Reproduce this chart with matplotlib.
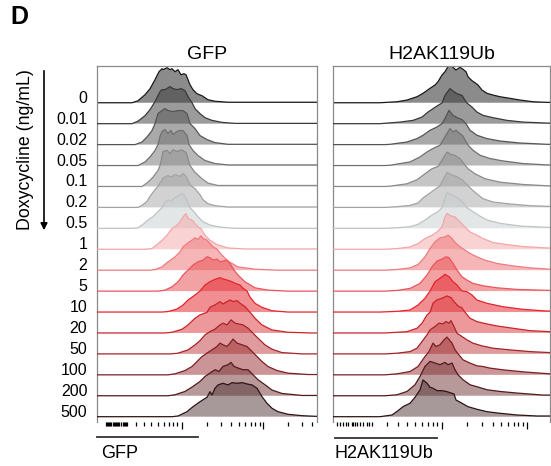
import numpy as np
import matplotlib
matplotlib.use("Agg")
import matplotlib.pyplot as plt
from matplotlib.transforms import blended_transform_factory

plt.rcParams['font.family'] = ['Liberation Sans', 'DejaVu Sans']

# doxycycline doses (ng/mL), one histogram row each
doses = ['0', '0.01', '0.02', '0.05', '0.1', '0.2', '0.5', '1', '2', '5',
         '10', '20', '50', '100', '200', '500']

# GFP histograms: display channel and scaled counts
gfp_x = [
    [35, 41, 48, 53, 58, 62, 65, 66, 70, 73, 75, 78, 81, 84, 87, 89, 91, 93, 96, 100, 105, 111, 118, 131],
    [35, 41, 48, 53, 58, 63, 65, 68, 73, 76, 80, 84, 88, 91, 95, 98, 103, 108, 115, 125, 138],
    [38, 45, 50, 55, 58, 61, 65, 68, 71, 76, 81, 86, 90, 93, 98, 103, 110, 118, 131],
    [41, 48, 53, 58, 61, 63, 65, 68, 71, 74, 76, 80, 83, 86, 90, 92, 96, 101, 108, 118, 131],
    [45, 51, 56, 61, 63, 65, 66, 70, 73, 76, 80, 85, 89, 93, 98, 105, 111, 121],
    [41, 45, 50, 53, 58, 61, 63, 65, 66, 71, 74, 78, 83, 86, 89, 93, 98, 103, 106, 111, 118, 131],
    [35, 41, 46, 51, 56, 61, 65, 68, 71, 74, 78, 83, 85, 88, 91, 93, 97, 101, 106, 113, 125, 138],
    [48, 55, 60, 65, 70, 75, 80, 83, 86, 89, 91, 95, 98, 101, 104, 108, 113, 120, 131, 148],
    [53, 58, 65, 71, 78, 83, 86, 90, 95, 98, 101, 104, 106, 110, 113, 116, 120, 125, 131, 141, 158, 181],
    [61, 68, 75, 81, 86, 91, 96, 101, 106, 110, 113, 116, 120, 123, 126, 130, 133, 137, 141, 148, 158, 171, 191],
    [65, 71, 80, 86, 91, 98, 103, 108, 113, 118, 123, 126, 130, 135, 138, 143, 146, 150, 153, 158, 165, 175, 191],
    [68, 75, 85, 91, 98, 103, 110, 113, 118, 123, 126, 130, 133, 136, 140, 143, 148, 153, 158, 165, 175, 191, 215],
    [73, 81, 91, 98, 103, 108, 113, 118, 123, 126, 130, 134, 138, 141, 146, 151, 156, 161, 168, 175, 185, 205],
    [71, 78, 88, 95, 100, 105, 110, 115, 120, 123, 126, 130, 133, 136, 140, 145, 150, 155, 160, 165, 171, 180, 191, 211],
    [71, 78, 88, 96, 103, 108, 113, 118, 122, 126, 131, 134, 137, 141, 146, 151, 156, 161, 168, 175, 185, 205],
    [75, 81, 90, 96, 103, 110, 113, 115, 118, 121, 126, 131, 135, 140, 145, 150, 155, 160, 165, 170, 175, 181, 191, 205, 218],
]
gfp_h = [
    [0, 2, 8, 14, 23, 31, 34, 33, 35, 33, 34, 31, 33, 28, 29, 28, 23, 18, 13, 9, 7, 3, 1.5, 0.5],
    [0, 2.5, 8, 14, 22, 32, 34, 34, 37, 35, 34, 35, 33, 27, 21, 15, 10, 6, 3.3, 1.3, 0.3],
    [0, 2.6, 7.6, 14, 21, 31, 34, 36, 34, 33, 34, 34, 31, 21, 16, 9, 5, 2, 0.3],
    [0, 3.6, 8.6, 15, 21, 29, 34, 36, 32, 35, 31, 34, 35, 35, 30, 21, 15, 10, 5, 2, 0.6],
    [0, 4.3, 9.3, 16, 21, 29, 35, 36, 33, 36.5, 35, 36.5, 34, 21, 14, 7.7, 3.3, 1],
    [0, 2, 6, 11, 17.7, 21, 24.5, 27, 29.4, 31.7, 30.4, 32.7, 31, 33.7, 31, 22.7, 18.7, 12.7, 7.7, 3.7, 1.7, 0.4],
    [0, 0.6, 4, 8.3, 11.7, 16.7, 20.7, 26, 28.3, 27.3, 30.6, 33.3, 35, 31.6, 25, 20.6, 16.6, 11.6, 6.6, 3.3, 1, 0],
    [0, 0.7, 4.7, 9, 14, 20.7, 24, 27.3, 32.3, 35.7, 30.7, 29, 25.7, 22.3, 20.7, 14, 9, 4.7, 1.3, 0.3],
    [0, 0.7, 3.3, 8.3, 13.3, 18.3, 23.3, 26.7, 30, 32.3, 30.7, 34.3, 31.7, 30, 26.7, 23.3, 21, 15, 9, 3.3, 1, 0],
    [0, 1, 4.3, 9.3, 16, 21, 26, 29.3, 31, 34.3, 33.3, 31, 32, 29.3, 30, 31, 27.7, 21, 16, 9.3, 3.3, 1, 0],
    [0, 0.5, 3, 7, 12, 17, 21, 27, 30.3, 32.7, 34.3, 33, 32, 30.3, 28.7, 27, 23.7, 21, 15, 8.7, 4.7, 1.3, 0],
    [0, 0.7, 3.7, 8, 14.7, 18, 20.7, 25.7, 28, 31.3, 29, 31.3, 33, 31.3, 32.3, 29.7, 26.3, 20.7, 14.7, 8, 3, 0.7, 0],
    [0, 0.7, 4, 9, 13.3, 19, 22.3, 24.7, 29, 30.7, 29, 34, 30.7, 30, 29, 25.7, 20.7, 15.7, 9, 4.7, 1.3, 0],
    [0, 1, 4.3, 8.3, 13.3, 18.3, 21.7, 25, 28.3, 31.7, 30, 28.3, 31.7, 35.7, 31.7, 30, 28.3, 23.3, 18.3, 13.3, 8.3, 4.3, 1.7, 0.3],
    [0, 1, 4.3, 9.3, 14.3, 19.3, 22.7, 26, 24.3, 29.3, 31, 33.3, 29.3, 27.7, 26, 26, 21, 16, 11, 5.7, 2.3, 0.3],
    [0, 0.7, 5, 10, 15, 19.4, 25, 21.7, 28.4, 31.7, 33.4, 31.7, 34, 33.4, 34, 32.7, 31.7, 28.4, 20, 13.4, 8.4, 5, 2.4, 1, 0.4],
]

# H2AK119Ub histograms
h2a_x = [
    [47, 64, 74, 84, 90, 97, 102, 105, 109, 112, 115, 118, 120, 123, 127, 130, 133, 135, 139, 142, 145, 149, 154, 160, 167, 177, 187, 200, 214],
    [47, 67, 80, 89, 95, 100, 105, 109, 112, 117, 120, 124, 129, 132, 134, 139, 144, 150, 160, 174, 190, 214],
    [52, 57, 74, 84, 90, 97, 104, 109, 112, 116, 120, 124, 129, 133, 137, 144, 154, 167, 187, 214],
    [52, 57, 77, 87, 94, 100, 107, 112, 117, 120, 123, 126, 130, 133, 136, 140, 147, 157, 170, 190, 214],
    [52, 57, 74, 84, 92, 99, 105, 110, 114, 118, 122, 127, 131, 135, 142, 152, 167, 190, 214],
    [52, 64, 77, 85, 90, 97, 104, 107, 112, 114, 118, 123, 129, 134, 139, 144, 150, 160, 177, 197, 217],
    [52, 64, 77, 85, 92, 99, 105, 109, 112, 114, 118, 122, 125, 130, 134, 139, 145, 154, 167, 187, 214],
    [52, 64, 77, 85, 92, 99, 104, 109, 112, 114, 118, 122, 127, 132, 137, 144, 150, 160, 174, 190, 214],
    [52, 64, 77, 85, 92, 97, 102, 107, 112, 115, 119, 122, 127, 132, 137, 144, 152, 164, 180, 197, 217],
    [52, 64, 77, 87, 94, 99, 104, 109, 113, 116, 120, 124, 129, 134, 140, 150, 164, 184, 217],
    [47, 64, 77, 85, 92, 97, 102, 107, 112, 116, 120, 124, 129, 134, 139, 144, 154, 170, 190, 214],
    [52, 57, 74, 84, 89, 94, 97, 100, 104, 109, 114, 118, 121, 125, 129, 132, 137, 144, 154, 164, 180, 197, 217],
    [52, 64, 77, 84, 89, 94, 97, 102, 106, 110, 113, 116, 118, 121, 124, 129, 134, 140, 149, 160, 177, 197, 217],
    [52, 64, 77, 85, 92, 96, 100, 103, 107, 111, 114, 119, 122, 125, 130, 137, 144, 150, 157, 170, 190, 217],
    [52, 64, 74, 82, 87, 92, 97, 102, 107, 112, 115, 119, 122, 125, 130, 137, 145, 154, 167, 184, 210],
    [47, 59, 65, 70, 77, 82, 87, 90, 94, 97, 100, 104, 109, 114, 117, 121, 123, 129, 135, 144, 154, 167, 184, 204],
]
h2a_h = [
    [0, 1, 2.7, 6, 9.4, 14.4, 17.7, 21, 27.7, 31, 36, 37.7, 35.4, 32.7, 35.4, 33.4, 31, 26, 22, 20, 17.7, 12.7, 9.4, 7.7, 6, 4.4, 2.7, 1, 0.4],
    [0, 1.6, 3.3, 6.6, 11.6, 15, 18.3, 20.6, 28.3, 35, 32.6, 30, 28.3, 23.3, 20.6, 16.6, 11.6, 8.3, 6, 3.3, 1.6, 0.6],
    [0, 0.3, 2.6, 6, 9.3, 14.3, 17.6, 21, 26, 34.3, 29.3, 27, 25, 21, 14.3, 9.3, 6, 3.6, 1.6, 0.3],
    [0, 0.3, 3.6, 8.6, 13.6, 17, 20.3, 28.6, 37, 33.6, 35.3, 32.6, 29.3, 23.6, 19.3, 15.3, 10.3, 7, 4.6, 2, 0.6],
    [0, 0.3, 2.7, 6.7, 12.7, 17.7, 20, 27.7, 34.3, 32, 31, 27.7, 22.7, 17.7, 12.7, 7.7, 4.3, 2, 0.7],
    [0, 0.7, 2, 4.4, 9.4, 14.4, 19.4, 21.7, 31, 35, 32.7, 31, 27.7, 22.7, 17.7, 13.4, 8.7, 5.4, 3.4, 1.7, 1],
    [0, 0.6, 1.6, 4, 8.3, 13.3, 16.6, 20.6, 30, 36, 33.3, 31.6, 30, 26, 20.6, 17.3, 13.3, 8.3, 5, 2.3, 1],
    [0, 0.7, 2.3, 5.7, 10.7, 14, 17.3, 22.3, 32.3, 35.7, 33.3, 32.3, 27.3, 22.3, 17.3, 14, 10.7, 6.7, 4.7, 2.7, 1.3],
    [0, 0.7, 2.3, 5.7, 13.3, 21.7, 28.3, 32.3, 33.3, 35, 31.7, 27.7, 23.3, 20, 16.7, 13.3, 10, 6.7, 4.3, 2.3, 1],
    [0, 0.7, 2.7, 7.7, 16, 24.3, 30, 32, 34.3, 33.3, 27.7, 21, 14.3, 11, 7.7, 5.3, 3.3, 1.7, 0.7],
    [0, 0.7, 2, 7, 13.7, 21, 30.3, 33.7, 37.7, 35.3, 30.3, 27, 21, 20.3, 17, 12, 8.7, 5.3, 2.7, 1],
    [0, 0.3, 1.3, 4.7, 9.7, 18, 20.7, 29.7, 33, 34.7, 37, 35.3, 31.3, 27, 25, 20.7, 14.7, 11.3, 9, 7, 4.7, 2.3, 1.3],
    [0, 0.7, 2.3, 5.7, 12.3, 19, 24, 27.3, 30.7, 30, 32.3, 30.7, 33.3, 27.3, 20.7, 17.3, 14, 10.7, 8, 5.7, 4, 2.3, 1.3],
    [0, 1, 3.3, 8.3, 18.3, 23.3, 31.7, 28.3, 30, 35, 37.7, 31.7, 25, 21, 15, 11.7, 9, 8.3, 6.7, 5, 3, 1],
    [0, 1, 4.3, 11, 19.3, 29.3, 34.3, 32.7, 31, 33.3, 31, 32.7, 26, 21, 16, 11, 8.7, 6, 4.3, 2.7, 0.7],
    [0, 1.7, 6, 10, 13.4, 19.4, 26.7, 36.7, 33.4, 29.4, 28.4, 26, 26, 25, 24, 22.7, 16.7, 13.4, 10, 7.4, 5, 3.4, 1.7, 0.7],
]

line_colors = ['#1a1a1a', '#3a3a3a', '#555555', '#707070', '#8a8a8a', '#a3a3a3', '#bfc3c3',
               '#f4a6a8', '#f07b80', '#ea555b', '#e3262d', '#c8252b', '#a3252a', '#7a2024',
               '#521a1d', '#2e1416']
fill_colors = ['#191919', '#393939', '#555555', '#737373', '#8d8d8d', '#a7a7a7', '#c9cfcf',
               '#f5a7a9', '#ef6f73', '#e9474b', '#e31f25', '#dd3539', '#c1393d', '#992b2f',
               '#733537', '#513537']

row_step = 20.9
n = len(doses)

# axis ticks (display channels)
gfp_major = [85.3, 166.3]
gfp_minor = ([9, 10, 11, 12, 13, 14, 16, 17, 18, 19, 20, 21, 22, 24, 26, 27, 28, 29, 30]
             + [39, 46.5, 54, 60.5, 67, 72, 75.5, 79.5]
             + list(85.3 + 81 * np.log10(np.arange(2, 10)))
             + list(166.3 + 81 * np.log10(np.arange(2, 5))))
h2a_major = [108.7, 193.7]
h2a_minor = ([4.3, 7, 10.3, 13, 15.3, 18.7, 20.3, 22, 23.7, 27, 29.7, 33.7, 36.3, 38.7]
             + [53.7, 65.3, 74.3, 82, 88.7, 95.3, 100.3, 103.7]
             + list(108.7 + 85 * np.log10(np.arange(2, 10))))

W, H = 551, 466
fig = plt.figure(figsize=(W / 100, H / 100), dpi=100)

bottom_px, top_px = 422, 66
ax1 = fig.add_axes([97 / W, 1 - bottom_px / H, 220 / W, (bottom_px - top_px) / H])
ax2 = fig.add_axes([333 / W, 1 - bottom_px / H, 217 / W, (bottom_px - top_px) / H])


def draw_panel(ax, xs, hs, xmax, title, major, minor):
    for i in range(n):
        base = (n - 1 - i) * row_step
        x = np.r_[0, xs[i], xmax]
        h = np.r_[0, hs[i], hs[i][-1]]
        ax.fill_between(x, base, base + h, facecolor=fill_colors[i], alpha=0.5,
                        lw=0, zorder=2 * i + 1)
        ax.plot(x, base + h, color=line_colors[i], lw=0.9, zorder=2 * i + 2)
    ax.set_xlim(0, xmax)
    ax.set_ylim(-5.3, (n - 1) * row_step + 36.7)
    ax.set_yticks([])
    ax.set_xticks(major)
    ax.set_xticks(minor, minor=True)
    ax.tick_params(axis='x', which='both', direction='out', color='black',
                   labelbottom=False, width=0.9)
    ax.tick_params(axis='x', which='major', length=4.8)
    ax.tick_params(axis='x', which='minor', length=3.0)
    for s in ['top', 'left', 'right']:
        ax.spines[s].set_color('#8a8a8a')
        ax.spines[s].set_linewidth(0.9)
    ax.spines['bottom'].set_visible(False)
    ax.set_title(title, fontsize=14, pad=5)


draw_panel(ax1, gfp_x, gfp_h, 220, 'GFP', gfp_major, gfp_minor)
draw_panel(ax2, h2a_x, h2a_h, 217, 'H2AK119Ub', h2a_major, h2a_minor)

# dose labels
tr = blended_transform_factory(ax1.transAxes, ax1.transData)
for i, d in enumerate(doses):
    ax1.text(-0.044, (n - 1 - i) * row_step, d, transform=tr, ha='right',
             va='baseline', fontsize=11.5)

# axis name bars under the panels
ax1.plot([0, 101 / 220], [-0.042, -0.042], transform=ax1.transAxes, color='#333333',
         lw=1.3, clip_on=False)
ax2.plot([2 / 217, 104 / 217], [-0.046, -0.046], transform=ax2.transAxes, color='#333333',
         lw=1.3, clip_on=False)
fig.text(101 / W, 1 - 453 / H, 'GFP', fontsize=13, ha='left', va='center')
fig.text(335 / W, 1 - 453 / H, 'H2AK119Ub', fontsize=13, ha='left', va='center')

# y label with arrow
fig.text(26 / W, 1 - 150 / H, 'Doxycycline (ng/mL)', rotation=90, fontsize=12.8,
         ha='center', va='center')
fig.patches.append(matplotlib.patches.FancyArrowPatch(
    (44 / W, 1 - 68 / H), (44 / W, 1 - 233 / H), transform=fig.transFigure,
    arrowstyle='-|>', mutation_scale=10, color='black', lw=1.2))

fig.text(10 / W, 1 - 17 / H, 'D', fontsize=18, fontweight='bold', ha='left', va='center')

fig.savefig('out.png', dpi=100)
